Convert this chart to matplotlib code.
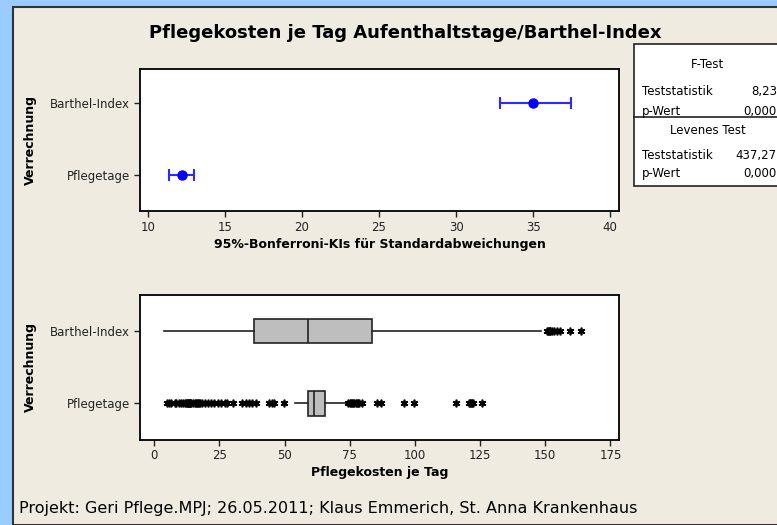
import matplotlib
matplotlib.use("Agg")
import matplotlib.pyplot as plt
from matplotlib.patches import Rectangle
from matplotlib.lines import Line2D

# ---------------- data ----------------
categories = ["Pflegetage", "Barthel-Index"]
ci_lower = [11.38, 32.83]
ci_center = [12.22, 35.0]
ci_upper = [12.99, 37.46]
ci_ticks = [10, 15, 20, 25, 30, 35, 40]

box_whislo = [53.8, 3.8]
box_q1 = [58.8, 38.4]
box_med = [61.4, 58.8]
box_q3 = [65.3, 83.5]
box_whishi = [73.9, 148.5]
fliers_pflegetage = [4.8, 5.5, 6.5, 7.8, 8.5, 9.3, 10.2, 11.0, 11.8, 12.3, 12.6, 12.9,
                     13.1, 13.3, 13.5, 13.8, 14.2, 15.0, 15.6, 16.0, 16.4, 16.8, 17.2,
                     17.7, 18.3, 19.5, 20.6, 21.9, 23.0, 24.3, 25.6, 27.0, 28.0, 30.2,
                     33.5, 35.0, 36.3, 37.6, 39.0, 44.0, 45.0, 46.0, 49.6,
                     74.5, 75.0, 75.5, 76.0, 76.3, 76.8, 77.2, 77.6, 78.0, 78.5, 79.5,
                     85.5, 87.0, 95.8, 99.8, 115.8, 120.8, 121.2, 121.6, 122.0, 122.4, 125.7]
fliers_barthel = [150.8, 151.1, 151.4, 151.7, 152.0, 152.4, 153.5, 154.6, 155.8, 159.6, 163.9]
box_ticks = [0, 25, 50, 75, 100, 125, 150, 175]

title = "Pflegekosten je Tag Aufenthaltstage/Barthel-Index"
ylabel = "Verrechnung"
xlabel_top = "95%-Bonferroni-KIs für Standardabweichungen"
xlabel_bottom = "Pflegekosten je Tag"
footer = "Projekt: Geri Pflege.MPJ; 26.05.2011; Klaus Emmerich, St. Anna Krankenhaus"
table_rows = [("F-Test", None), ("Teststatistik", "8,23"), ("p-Wert", "0,000"),
              ("Levenes Test", None), ("Teststatistik", "437,27"), ("p-Wert", "0,000")]

# ---------------- figure ----------------
W, H = 777, 525
fig = plt.figure(figsize=(W / 100, H / 100), dpi=100)
fig.patch.set_facecolor("#99CCFF")
BEIGE = "#EFEBE0"

def fx(px):
    return px / W

def fy(py):
    return 1 - py / H

panel = Rectangle((fx(12.5), 0), 1 - fx(12.5) + 0.01, fy(6.5), transform=fig.transFigure,
                  facecolor=BEIGE, edgecolor="#333333", linewidth=1.5, zorder=-5)
fig.patches.append(panel)

fig.text(fx(405), fy(33), title, ha="center", va="center", fontsize=13,
         fontweight="bold", color="black")

TICKFS = 8.5
pos = [1, 2]

# ---- top axes: CI ----
ax1 = fig.add_axes([fx(140), fy(211), fx(619) - fx(140), fy(69) - fy(211)])
for p, lo, c, hi in zip(pos, ci_lower, ci_center, ci_upper):
    ax1.errorbar([c], [p], xerr=[[c - lo], [hi - c]], fmt="o", color="#0000FF",
                 ecolor="#2B2BFF", markersize=6.5, capsize=4, elinewidth=1.5, capthick=1.5)
ax1.set_xlim(9.48, 40.58)
ax1.set_ylim(0.5, 2.47)
ax1.set_xticks(ci_ticks)
ax1.set_yticks(pos)
ax1.set_yticklabels(categories)
ax1.set_xlabel(xlabel_top, fontsize=9, fontweight="bold", labelpad=3)

# ---- bottom axes: boxplot ----
ax2 = fig.add_axes([fx(140), fy(439.5), fx(619) - fx(140), fy(295) - fy(439.5)])
fliers = [fliers_pflegetage, fliers_barthel]
stats = []
for i in range(2):
    stats.append(dict(med=box_med[i], q1=box_q1[i], q3=box_q3[i],
                      whislo=box_whislo[i], whishi=box_whishi[i], fliers=fliers[i]))
ax2.bxp(stats, positions=pos, vert=False, widths=0.34, patch_artist=True,
        showcaps=False,
        boxprops=dict(facecolor="#BEBEBE", edgecolor="#222222", linewidth=1.2),
        medianprops=dict(color="#222222", linewidth=1.2),
        whiskerprops=dict(color="#222222", linewidth=1.2),
        flierprops=dict(marker=(6, 2, 0), markersize=5.5, markeredgecolor="black",
                        markerfacecolor="black", markeredgewidth=1.2, linestyle="none"))
ax2.set_xlim(-5.5, 178.3)
ax2.set_ylim(0.5, 2.5)
ax2.set_xticks(box_ticks)
ax2.set_xticklabels([str(t) for t in box_ticks])
ax2.set_yticks(pos)
ax2.set_yticklabels(categories)
ax2.set_xlabel(xlabel_bottom, fontsize=9, fontweight="bold", labelpad=3)

for ax in (ax1, ax2):
    ax.set_zorder(5)
    ax.set_facecolor("white")
    for s in ax.spines.values():
        s.set_linewidth(1.3)
        s.set_color("black")
    ax.tick_params(axis="both", direction="out", length=4, width=1, labelsize=TICKFS,
                   colors="#222222", pad=3)

fig.text(fx(30), fy(140), ylabel, rotation=90, ha="center", va="center",
         fontsize=9, fontweight="bold")
fig.text(fx(30), fy(367), ylabel, rotation=90, ha="center", va="center",
         fontsize=9, fontweight="bold")

# ---- statistics table ----
tbl = Rectangle((fx(634), fy(185.7)), 1 - fx(634) + 0.01, fy(44) - fy(185.7),
                transform=fig.transFigure, facecolor="white", edgecolor="#222222",
                linewidth=1.2, zorder=1)
fig.patches.append(tbl)
fig.add_artist(Line2D([fx(634), 1.0], [fy(116.7), fy(116.7)], transform=fig.transFigure,
                      color="#222222", linewidth=1.2, zorder=2))
row_y = [65, 91.7, 111, 130, 155, 173]
for (label, val), y in zip(table_rows, row_y):
    if val is None:
        fig.text(fx(708), fy(y), label, ha="center", va="center", fontsize=8.5, zorder=3)
    else:
        fig.text(fx(642), fy(y), label, ha="left", va="center", fontsize=8.5, zorder=3)
        fig.text(fx(777), fy(y), val, ha="right", va="center", fontsize=8.5, zorder=3)

fig.text(fx(19), fy(508), footer, ha="left", va="center", fontsize=11.5)

fig.savefig("out.png", dpi=100, facecolor=fig.get_facecolor())
